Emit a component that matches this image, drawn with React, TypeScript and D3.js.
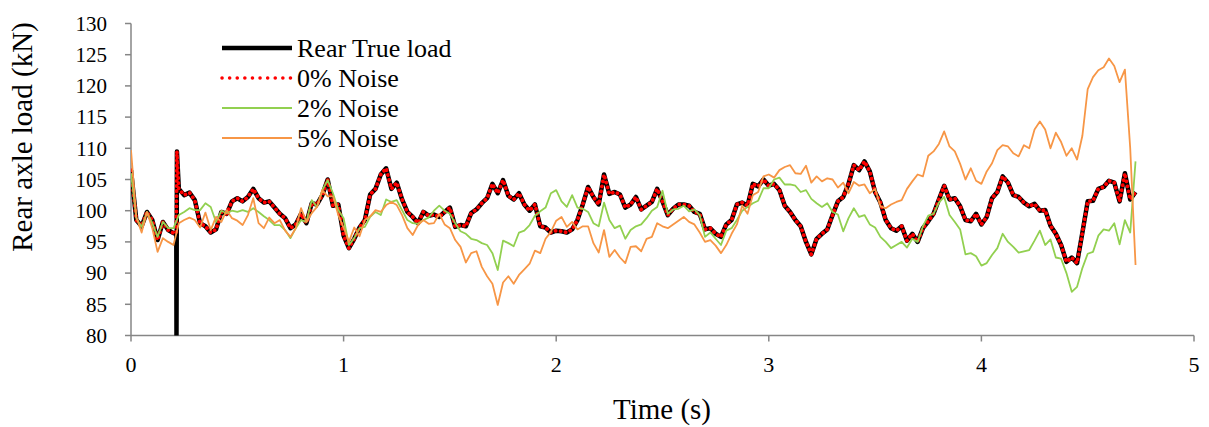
import React from "react";
import * as d3 from "d3";

// sampling grid of the recorded signals (s)
const timeStep = 0.025;
const time: number[] = d3.range(0, 190).map((i) => +(i * timeStep).toFixed(3));

const trueLoad = [
  106.5, 98.5, 97.5, 99.8, 98.5, 95.3, 98.2, 96.9, 96.4, 103.5,
  102.5, 102.9, 101.7, 98, 97.5, 96.5, 97, 99.8, 99.5, 101.5,
  102, 101.5, 102.2, 103.5, 102, 101.3, 101.5, 100.5, 99.5, 98.8,
  97.2, 97.8, 99.5, 98, 101.2, 101, 102.5, 105, 100.8, 101,
  96, 94, 95.5, 97.3, 98.5, 102.6, 103.5, 105.8, 106.8, 103.5,
  104.5, 101.8, 99.8, 99, 98, 99.8, 99.2, 99.4, 99, 99.8,
  100.5, 97.4, 97.7, 97.5, 99.6, 100.2, 101.2, 102, 104.3, 102.8,
  104.9, 102.4, 101.8, 102.8, 101, 100, 101, 97.5, 97.3, 96.5,
  96.8, 96.7, 96.5, 97, 98.5, 101, 103.8, 102.2, 101, 105.8,
  102.7, 103, 102.6, 100.5, 101, 102.2, 100.2, 100.8, 101.4, 103.5,
  101.5, 99.3, 100.3, 101, 101, 100.8, 99.8, 99.5, 97, 97.2,
  96.3, 95.8, 97.8, 98.5, 101, 101.3, 100.8, 104.3, 103.9, 105,
  104, 104.3, 103.3, 100.8, 99.8, 98.5, 97.5, 95, 93, 95.5,
  96.3, 97, 99.3, 101.5, 102.2, 104.3, 107.3, 106.5, 107.9, 106.3,
  103, 101.3, 98.5, 97.2, 96.8, 97.5, 95.2, 96.3, 95, 97.2,
  98.3, 99.5, 101.8, 104, 101.8, 102, 100.7, 98.5, 98.3, 99.5,
  97.8, 99, 102, 103, 105.5, 104.5, 102.5, 102.2, 101.3, 100.7,
  101.1, 100, 100.1, 97.6, 96.3, 94.5, 91.8, 92.5, 91.6, 96.5,
  101.5, 101.6, 103.5, 103.8, 104.8, 104.5, 101.5, 106, 101.8, 103,
];
// short transient of the true load signal
const trueSpikeTime = [0.213, 0.214, 0.216];
const trueSpikeLoad = [96.4, 80, 109.5];

// 0% noise identification coincides with the true load
const noise0Load = trueLoad.slice();
const noise0SpikeTime = [0.213, 0.216];
const noise0SpikeLoad = [96.4, 109.5];

const noise2Load = [
  106, 98.8, 97.4, 99.8, 98, 95.8, 98.2, 97.2, 97.2, 99.3,
  99.8, 100.4, 100.1, 100.1, 101.2, 100.6, 98.2, 100, 99.6, 100,
  99.8, 100.1, 99.8, 100.4, 99.8, 99.1, 98.5, 97.7, 97.7, 96.9,
  95.6, 97.2, 98.5, 98.2, 101.7, 100.6, 103.3, 104.9, 102.8, 100.1,
  98.8, 94.5, 95.6, 97.2, 97.4, 99, 99.8, 99.3, 101.8, 101.4,
  101.7, 100.1, 98.5, 98, 97.9, 98.5, 98.9, 100, 100.8, 100,
  99.5, 98, 96.7, 96.3, 95.5, 95.3, 94.8, 94.5, 93.2, 90.5,
  95.2, 94.8, 94.3, 96.5, 96.8, 97.7, 99.2, 99.9, 100.5, 102.8,
  103.3, 101.5, 100.6, 102.5, 100.5, 100.3, 99.8, 98, 97.5, 101.3,
  98.5, 97.2, 97.6, 95.5, 96.9, 97.5, 97.8, 98.8, 100, 100.6,
  103.2, 99.5, 100.2, 100.3, 100.8, 99.9, 100.2, 99.3, 95.8, 96.5,
  95.5, 94.5, 96.8, 97.2, 98.5, 100, 100.6, 101.2, 101.6, 103.6,
  103.6, 105, 105.3, 104.2, 104.2, 104, 103, 103.3, 101.9, 101.2,
  100.6, 101.2, 99.8, 99.4, 96.7, 98.8, 100.4, 99, 99.3, 97.8,
  97.3, 95.8, 95, 94, 94.5, 95, 94.1, 95.5, 95, 97.5,
  99.2, 99.5, 101.3, 102.2, 99.3, 98.2, 97, 93, 93.2, 92.7,
  91.2, 91.6, 92.9, 94, 96.3, 95, 94.2, 93.3, 93.5, 93.7,
  95.2, 96.8, 94.5, 95.4, 92.5, 92.3, 90, 87, 87.8, 90.8,
  93.1, 93.4, 96, 97, 96.8, 98, 94.6, 98.5, 96.5, 107.9,
];

const noise5Load = [
  109.7, 99, 96.5, 99.8, 97.2, 93.4, 95.6, 95, 94.5, 98,
  98.5, 98.9, 98.5, 97.3, 99.7, 96.9, 99, 98.2, 100.1, 98.8,
  98.4, 97.7, 99.3, 102, 98, 97.2, 98.9, 98, 98.5, 96.8,
  95.8, 97.2, 100.4, 98.2, 99.6, 100.6, 103.3, 102.3, 102.3, 99.3,
  97.3, 95, 97.3, 95.9, 98.5, 99.1, 100.1, 99.8, 100.9, 101.4,
  100.9, 99.3, 97.2, 96.1, 97.7, 98.5, 97.9, 98, 99.5, 97.8,
  97.2, 95.3, 94.2, 91.7, 93.2, 93.5, 91, 89.5, 88.3, 84.9,
  88.5, 89.5, 88.3, 89.7, 90.6, 91.5, 93.6, 93.2, 95.5, 96.6,
  98.4, 99, 97.4, 98.2, 97, 97.5, 97.5, 94.8, 93.3, 96.9,
  92.6, 93.7, 92.5, 91.6, 94.2, 94.3, 93.5, 95.5, 95.8, 98,
  97.5, 97.2, 97.8, 98.4, 99, 98.2, 97.8, 96.5, 95, 95.3,
  94.4, 93.2, 94.5, 96.3, 97.8, 100.8, 99.5, 102.5, 103, 105.5,
  105.8, 105.3, 106.5, 107, 107.3, 106, 105.9, 107.2, 104.5, 105.5,
  104.7, 105.2, 105, 103.7, 104.5, 102.8, 104.6, 104, 104.2, 102.8,
  103.5, 100.7, 100.4, 101, 101.4, 101.7, 103.5, 104.7, 105.8, 105.5,
  108.8, 109.5, 110.7, 112.7, 110.3, 109.5, 107.5, 105, 106.8, 104.8,
  104.3, 106.3, 107.6, 109.7, 110.5, 110.3, 109.2, 108.7, 110.5, 110,
  113, 114.3, 113, 110, 112.5, 111, 108.8, 110, 108.2, 112,
  119.5, 121.4, 122.5, 123, 124.4, 123.2, 120.6, 122.6, 110, 91.3,
];

const xTicks = [0, 1, 2, 3, 4, 5];
const yTicks = [80, 85, 90, 95, 100, 105, 110, 115, 120, 125, 130];

const legendLabels = ["Rear True load", "0% Noise", "2% Noise", "5% Noise"];

type Pt = [number, number];

function buildSeries(values: number[], extraT: number[] = [], extraV: number[] = []): Pt[] {
  const pts: Pt[] = time.map((t, i) => [t, values[i]] as Pt);
  extraT.forEach((t, i) => pts.push([t, extraV[i]]));
  pts.sort((a, b) => a[0] - b[0]);
  return pts;
}

const W = 1209;
const H = 427;
const left = 131;
const right = 1194;
const top = 23.5;
const bottom = 335.5;

const FONT = "'Liberation Serif', 'Times New Roman', serif";
const AXIS = "#868686";

export default function App() {
  const x = d3.scaleLinear().domain([0, 5]).range([left, right]);
  const y = d3.scaleLinear().domain([80, 130]).range([bottom, top]);
  const line = d3
    .line<Pt>()
    .x((d) => x(d[0]))
    .y((d) => y(d[1]));

  const sTrue = buildSeries(trueLoad, trueSpikeTime, trueSpikeLoad);
  const s0 = buildSeries(noise0Load, noise0SpikeTime, noise0SpikeLoad);
  const s2 = buildSeries(noise2Load);
  const s5 = buildSeries(noise5Load);

  const series = [
    { data: sTrue, color: "#000000", width: 4.5, dash: undefined as string | undefined, cap: "butt" },
    { data: s0, color: "#FF0000", width: 3.8, dash: "0.1 5", cap: "round" },
    { data: s2, color: "#92D050", width: 1.8, dash: undefined, cap: "butt" },
    { data: s5, color: "#F79646", width: 1.8, dash: undefined, cap: "butt" },
  ];

  const legendY = [48, 78, 108, 138];

  return (
    <svg
      width={W}
      height={H}
      style={{ position: "absolute", left: 0, top: 0, background: "#fff" }}
      fontFamily={FONT}
    >
      <rect x={0} y={0} width={W} height={H} fill="#ffffff" />
      {/* y axis */}
      <line x1={left} x2={left} y1={top} y2={bottom} stroke={AXIS} strokeWidth={1.5} />
      {yTicks.map((v) => (
        <g key={"y" + v}>
          <line x1={left - 6} x2={left} y1={y(v)} y2={y(v)} stroke={AXIS} strokeWidth={1.5} />
          <text
            x={107}
            y={y(v)}
            dy="0.35em"
            textAnchor="end"
            fontSize={21}
            fontFamily={FONT}
            fill="#000"
          >
            {v}
          </text>
        </g>
      ))}
      {/* x axis */}
      <line x1={left} x2={right} y1={bottom} y2={bottom} stroke={AXIS} strokeWidth={1.5} />
      {xTicks.map((v) => (
        <g key={"x" + v}>
          <line x1={x(v)} x2={x(v)} y1={bottom} y2={bottom + 6} stroke={AXIS} strokeWidth={1.5} />
          <text x={x(v)} y={372} textAnchor="middle" fontSize={22} fontFamily={FONT} fill="#000">
            {v}
          </text>
        </g>
      ))}
      <defs>
        <clipPath id="plotclip">
          <rect x={left} y={top - 2} width={right - left} height={bottom - top + 2} />
        </clipPath>
      </defs>
      <g clipPath="url(#plotclip)">
        {series.map((s, i) => (
          <path
            key={i}
            d={line(s.data) || ""}
            fill="none"
            stroke={s.color}
            strokeWidth={s.width}
            strokeDasharray={s.dash}
            strokeLinecap={s.cap as any}
            strokeLinejoin="round"
          />
        ))}
      </g>
      {/* legend */}
      {legendLabels.map((lab, i) => (
        <g key={lab}>
          <line
            x1={222}
            x2={292}
            y1={legendY[i]}
            y2={legendY[i]}
            stroke={series[i].color}
            strokeWidth={i === 0 ? 4.5 : i === 1 ? 3.5 : 2}
            strokeDasharray={series[i].dash ? "0.1 7.5" : undefined}
            strokeLinecap={series[i].cap as any}
          />
          <text x={297} y={legendY[i]} dy="0.35em" fontSize={26} fontFamily={FONT} fill="#000">
            {lab}
          </text>
        </g>
      ))}
      {/* axis titles */}
      <text x={662} y={419} textAnchor="middle" fontSize={29} fontFamily={FONT} fill="#000">
        Time (s)
      </text>
      <text
        transform={`translate(32, 137) rotate(-90)`}
        textAnchor="middle"
        fontSize={29}
        fontFamily={FONT}
        fill="#000"
      >
        Rear axle load (kN)
      </text>
    </svg>
  );
}
